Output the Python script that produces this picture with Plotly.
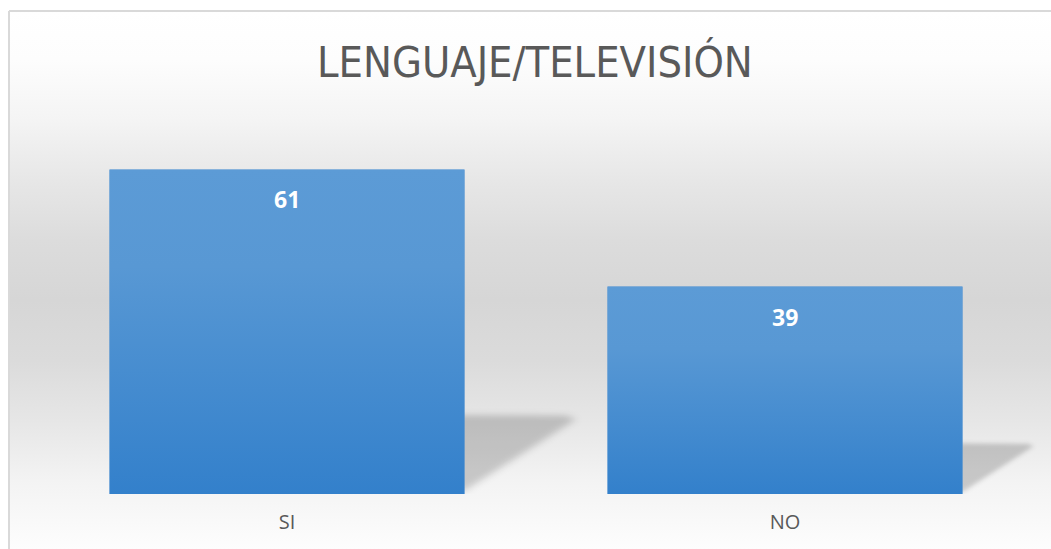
import base64
import plotly.graph_objects as go

# ---- data ----
categories = ["SI", "NO"]
values = [61, 39]
chart_title = "LENGUAJE/TELEVISIÓN"

# ---- geometry / style ----
W, H = 1051, 549
PX_PER_CAT = 498.0
BAR_WIDTH = 0.713
Y_MAX = 70
PLOT_LEFT_PX, PLOT_RIGHT_PX = 38, 1034
BASE_PX, TOP_PX = 494, 121.6
PX_PER_UNIT = (BASE_PX - TOP_PX) / Y_MAX


def svg_uri(svg):
    return "data:image/svg+xml;base64," + base64.b64encode(svg.encode("utf-8")).decode()


# background vertical gradient (chart area)
bg_stops = [(11, 255), (60, 253), (120, 244), (180, 231), (240, 220), (300, 214),
            (360, 219), (420, 230), (480, 243), (549, 253)]
stop_xml = "".join(
    f"<stop offset='{(y - 11) / 538:.4f}' stop-color='rgb({g},{g},{g})'/>" for y, g in bg_stops
)
bg_svg = (
    "<svg xmlns='http://www.w3.org/2000/svg' width='100' height='100' viewBox='0 0 100 100' "
    "preserveAspectRatio='none'><defs><linearGradient id='g' x1='0' y1='0' x2='0' y2='1'>"
    + stop_xml
    + "</linearGradient></defs><rect x='0' y='0' width='100' height='100' fill='url(#g)'/></svg>"
)

# bar gradient
bar_svg = (
    "<svg xmlns='http://www.w3.org/2000/svg' width='100' height='100' viewBox='0 0 100 100' "
    "preserveAspectRatio='none'><defs><linearGradient id='b' x1='0' y1='0' x2='0' y2='1'>"
    "<stop offset='0' stop-color='#5c9bd6'/><stop offset='0.3' stop-color='#5898d4'/>"
    "<stop offset='1' stop-color='#3380cb'/></linearGradient></defs>"
    "<rect x='0' y='0' width='100' height='100' fill='url(#b)'/></svg>"
)

# blurred perspective shadow
shadow_svg = (
    "<svg xmlns='http://www.w3.org/2000/svg' width='180' height='180' viewBox='-40 -40 180 180' "
    "preserveAspectRatio='none'><defs><filter id='f' x='-50%' y='-50%' width='200%' height='200%'>"
    "<feGaussianBlur stdDeviation='4'/></filter></defs>"
    "<polygon points='-40,0 92,1 100,6 0,96 -40,96' fill='#000' fill-opacity='0.18' filter='url(#f)'/>"
    "</svg>"
)

x_pos = list(range(len(categories)))

fig = go.Figure()
fig.add_trace(go.Bar(
    x=x_pos, y=values, width=BAR_WIDTH,
    marker=dict(color="#4a8ed1", line=dict(width=0)),
    hoverinfo="skip", showlegend=False,
))

images = [dict(
    source=svg_uri(bg_svg), xref="paper", yref="paper",
    x=9 / W, y=1 - 11 / H, sizex=1.0, sizey=(H - 11) / H,
    xanchor="left", yanchor="top", sizing="stretch", layer="below",
)]
annotations = []
for xi, v in zip(x_pos, values):
    edge = xi + BAR_WIDTH / 2
    sw = 1.82 * v / PX_PER_CAT
    sh = 1.3 * v / PX_PER_UNIT
    images.append(dict(
        source=svg_uri(shadow_svg), xref="x", yref="y",
        x=edge - 0.4 * sw, y=1.4 * sh, sizex=1.8 * sw, sizey=1.8 * sh,
        xanchor="left", yanchor="top", sizing="stretch", layer="below",
    ))
    images.append(dict(
        source=svg_uri(bar_svg), xref="x", yref="y",
        x=xi - BAR_WIDTH / 2, y=v, sizex=BAR_WIDTH, sizey=v,
        xanchor="left", yanchor="top", sizing="stretch", layer="above",
    ))
    annotations.append(dict(
        x=xi, y=v, xref="x", yref="y", text=str(v), showarrow=False,
        yanchor="middle", yshift=-30,
        font=dict(family="Open Sans", size=23, color="white", weight="bold"),
    ))

annotations.append(dict(
    x=535 / W, y=1 - 62 / H, xref="paper", yref="paper", text=chart_title,
    showarrow=False, xanchor="center", yanchor="middle",
    font=dict(family="DejaVu Sans Condensed, DejaVu Sans, sans-serif",
              size=43, color="#595959"),
))

x_lo = -0.5 - PLOT_LEFT_PX / PX_PER_CAT
x_hi = len(categories) - 0.5 + (W - PLOT_RIGHT_PX) / PX_PER_CAT

fig.update_layout(
    width=W, height=H,
    margin=dict(l=0, r=0, t=0, b=0),
    paper_bgcolor="white", plot_bgcolor="rgba(0,0,0,0)",
    images=images, annotations=annotations,
    shapes=[
        dict(type="line", xref="paper", yref="paper", x0=9 / W, x1=9 / W, y0=-0.05, y1=1 - 11 / H,
             line=dict(color="#d9d9d9", width=2), layer="above"),
        dict(type="line", xref="paper", yref="paper", x0=9 / W, x1=1.05, y0=1 - 11 / H, y1=1 - 11 / H,
             line=dict(color="#d9d9d9", width=2), layer="above"),
    ],
    xaxis=dict(
        domain=[0, 1], range=[x_lo, x_hi], tickvals=x_pos, ticktext=categories,
        showgrid=False, zeroline=False, showline=False, ticks="",
        tickfont=dict(family="Open Sans", size=20, color="#595959"),
        ticklabelstandoff=14, fixedrange=True,
    ),
    yaxis=dict(
        domain=[(H - BASE_PX) / H, (H - TOP_PX) / H], range=[0, Y_MAX], visible=False,
        showgrid=False, zeroline=False, fixedrange=True,
    ),
    bargap=0.287,
)

fig.write_html(
    "out.html",
    config={"displayModeBar": False},
    post_script="document.body.style.margin='0px';document.body.style.overflow='hidden';",
)
